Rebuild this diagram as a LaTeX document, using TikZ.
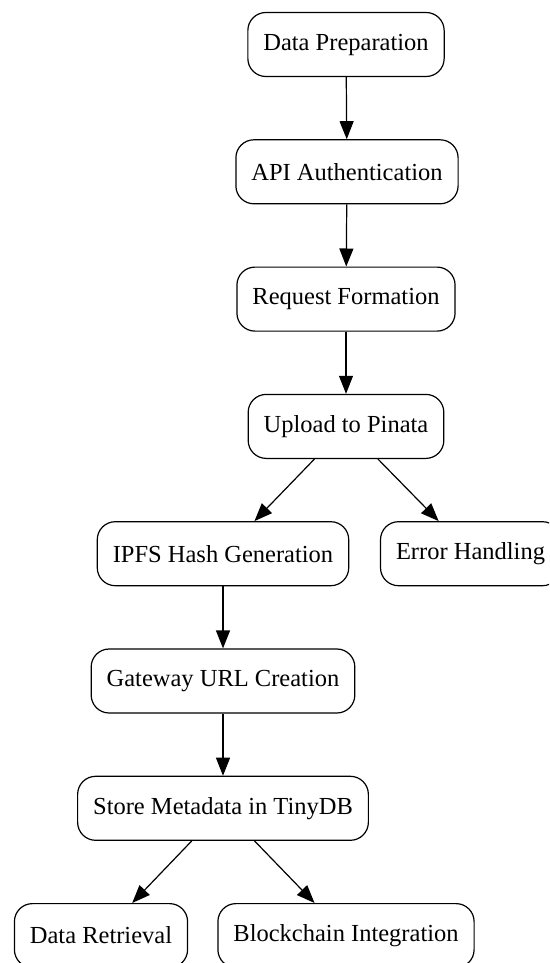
\documentclass[tikz,border=0pt]{standalone}
\usepackage{fontspec}
\setmainfont{Liberation Serif}
\usepackage{tikz}
\usetikzlibrary{arrows.meta,shapes,positioning}
\tikzstyle{process} = [rectangle, rounded corners=18pt, minimum height=64pt, inner xsep=15.5pt, text centered, draw=black, fill=white, line width=1.2pt, font=\fontsize{24.5}{29}\selectfont]
\tikzstyle{arrow} = [line width=1.2pt, -{Triangle[length=18pt, width=14pt]}, color=black]

\begin{document}
\begin{tikzpicture}[x=1pt, y=-1pt, node distance=127.3pt]
\clip (0,0) rectangle (549,963);
% Upload pipeline
\node (prep) [process] at (346,44.5) {Data Preparation};
\node (auth) [process, below of=prep, xshift=1pt] {API Authentication};
\node (request) [process, below of=auth, xshift=-1pt] {Request Formation};
\node (upload) [process, below of=request] {Upload to Pinata};

% Success and failure branches
\node (ipfs) [process, below of=upload, xshift=-123pt] {IPFS Hash Generation};
\node (error) [process, below of=upload, xshift=124.5pt] {Error Handling};
\node (gateway) [process, below of=ipfs] {Gateway URL Creation};
\node (store) [process, below of=gateway] {Store Metadata in TinyDB};

% Consumers of the stored record
\node (retrieval) [process, below of=store, xshift=-122pt] {Data Retrieval};
\node (chain) [process, below of=store, xshift=123pt] {Blockchain Integration};

\draw[arrow] (prep) -- (auth);
\draw[arrow] (auth) -- (request);
\draw[arrow] (request) -- (upload);
\draw[arrow] (upload) -- (ipfs);
\draw[arrow] (upload) -- (error);
\draw[arrow] (ipfs) -- (gateway);
\draw[arrow] (gateway) -- (store);
\draw[arrow] (store) -- (retrieval);
\draw[arrow] (store) -- (chain);
\end{tikzpicture}
\end{document}
